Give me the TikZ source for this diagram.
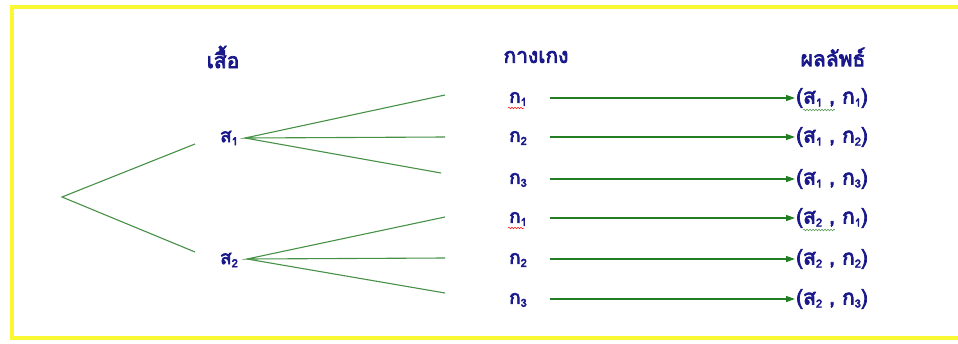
\documentclass[tikz,border=0pt]{standalone}
\usepackage{fontspec}
\newfontfamily\thai[Script=Thai,FakeBold=3.5]{Loma}
\usetikzlibrary{decorations.pathmorphing,arrows.meta}
\definecolor{txt}{RGB}{25,25,140}
\definecolor{ln}{RGB}{70,145,70}
\definecolor{arr}{RGB}{35,125,35}
\definecolor{framec}{RGB}{250,248,50}
\newcommand\mysubn[1]{\raisebox{-3pt}{\fontsize{11}{11}\selectfont #1}}
\begin{document}
\begin{tikzpicture}[x=1pt,y=-1pt,
  lab/.style={font=\thai\fontsize{19}{22}\selectfont, text=txt, inner sep=1pt},
  head/.style={lab, font=\thai\fontsize{21}{24}\selectfont},
  outc/.style={lab, anchor=west, font=\thai\fontsize{21}{24}\selectfont},
  br/.style={draw=ln, line width=1.1pt},
  ar/.style={draw=arr, line width=1.3pt, -{Triangle[length=9pt,width=6pt]}},
  squig/.style={decorate, decoration={snake, segment length=3pt, amplitude=0.8pt}, line width=0.5pt}]
\useasboundingbox (0,0) rectangle (958,343);
\fill[white] (0,0) rectangle (958,343);
\draw[framec, line width=4pt] (975,6.5) -- (12,6.5) -- (12,338) -- (975,338);

\node[head] (h1) at (223,57) {เสื้อ};
\node[head] (h2) at (536,57) {กางเกง};
\node[head] (h3) at (833,57) {ผลลัพธ์};

\coordinate (root) at (62,197);
\node[lab] (s1) at (229,138) {ส\mysubn{1}};
\node[lab] (s2) at (229,260) {ส\mysubn{2}};
\coordinate (s1in) at (195,144);
\coordinate (s2in) at (195,252);
\draw[br] (s1in) -- (root) -- (s2in);

\coordinate (e1) at (445,95);
\coordinate (e2) at (445,137);
\coordinate (e3) at (441,173);
\coordinate (e4) at (445,217);
\coordinate (e5) at (445,258);
\coordinate (e6) at (445,293);
\coordinate (s1out) at (245,138);
\coordinate (s2out) at (247,259);
\draw[br] (e1) -- (s1out) -- (e2);
\draw[br] (s1out) -- (e3);
\draw[br] (e4) -- (s2out) -- (e5);
\draw[br] (s2out) -- (e6);

\node[lab] (k1) at (518,99) {ก\mysubn{1}};
\node[lab] (k2) at (518,138) {ก\mysubn{2}};
\node[lab] (k3) at (518,180) {ก\mysubn{3}};
\node[lab] (k4) at (518,219) {ก\mysubn{1}};
\node[lab] (k5) at (518,260) {ก\mysubn{2}};
\node[lab] (k6) at (518,300) {ก\mysubn{3}};

\node[outc] (o1) at (795,98) {(ส\mysubn{1} , ก\mysubn{1})};
\node[outc] (o2) at (795,137) {(ส\mysubn{1} , ก\mysubn{2})};
\node[outc] (o3) at (795,179) {(ส\mysubn{1} , ก\mysubn{3})};
\node[outc] (o4) at (795,218) {(ส\mysubn{2} , ก\mysubn{1})};
\node[outc] (o5) at (795,259) {(ส\mysubn{2} , ก\mysubn{2})};
\node[outc] (o6) at (795,299) {(ส\mysubn{2} , ก\mysubn{3})};

\foreach \i in {1,...,6}{
  \draw[ar] (550,0 |- o\i.west) -- (o\i.west);
}

\draw[squig, red] ([xshift=-10pt,yshift=-1pt]k1.south) -- ([xshift=6pt,yshift=-1pt]k1.south);
\draw[squig, red] ([xshift=-10pt,yshift=-1pt]k4.south) -- ([xshift=6pt,yshift=-1pt]k4.south);
\draw[squig, ln] ([xshift=8pt,yshift=-1pt]o1.south west) -- ([xshift=40pt,yshift=-1pt]o1.south west);
\draw[squig, ln] ([xshift=8pt,yshift=-1pt]o4.south west) -- ([xshift=40pt,yshift=-1pt]o4.south west);
\end{tikzpicture}
\end{document}
